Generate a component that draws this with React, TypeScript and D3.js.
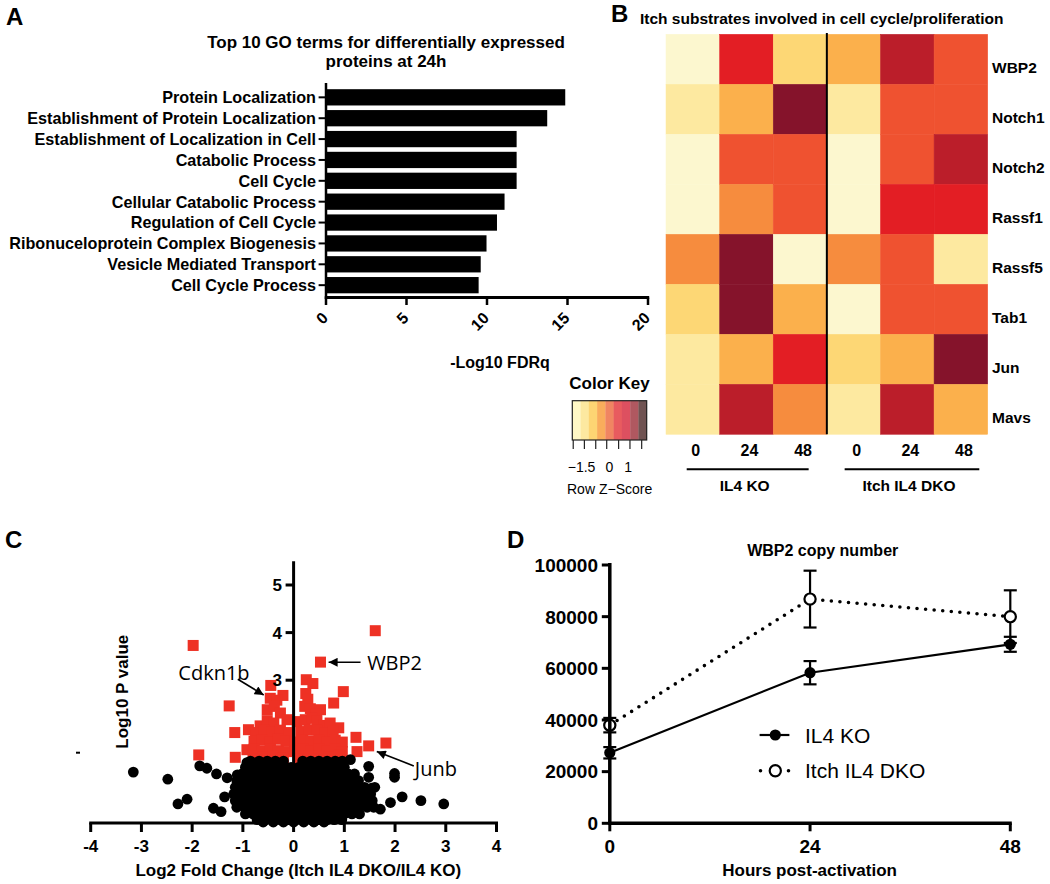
import React from 'react';
import * as d3 from 'd3';

// ---------- Panel A data ----------
const goTerms = [
  'Protein Localization',
  'Establishment of Protein Localization',
  'Establishment of Localization in Cell',
  'Catabolic Process',
  'Cell Cycle',
  'Cellular Catabolic Process',
  'Regulation of Cell Cycle',
  'Ribonuceloprotein Complex Biogenesis',
  'Vesicle Mediated Transport',
  'Cell Cycle Process',
];
const goValues = [14.86, 13.74, 11.84, 11.84, 11.84, 11.09, 10.62, 9.97, 9.61, 9.48];
const goTicks = [0, 5, 10, 15, 20];

// ---------- Panel B data ----------
const heatGenes = ['WBP2', 'Notch1', 'Notch2', 'Rassf1', 'Rassf5', 'Tab1', 'Jun', 'Mavs'];
const heatTimes = ['0', '24', '48', '0', '24', '48'];
const heatGroups = ['IL4 KO', 'Itch IL4 DKO'];
const heatZ = [
  [-1.8, 0.9, -0.9, -0.45, 1.3, 0.45],
  [-1.3, -0.45, 1.8, -1.3, 0.45, 0.45],
  [-1.8, 0.45, 0.45, -1.8, 0.45, 1.3],
  [-1.8, 0, 0.45, -1.8, 0.9, 0.9],
  [0, 1.8, -1.8, 0, 0.45, -1.3],
  [-0.9, 1.8, -0.45, -1.8, 0.45, 0.45],
  [-1.3, -0.45, 0.9, -0.9, -0.45, 1.8],
  [-1.3, 1.3, 0, -1.3, 1.3, -0.45],
];
const keyTickValues = [-1.95, -1.35, -0.74, -0.15, 0.49, 1.1, 1.73];
const keyLabels = [-1.5, 0, 1];

// ---------- Panel C data ----------
const volcanoSig: [number, number][] = [
  [1.61, 4.04], [-1.98, 3.73], [0.53, 3.38], [0.25, 3.01], [0.38, 2.93], [-0.45, 2.89],
  [0.98, 2.76], [0.79, 2.52], [-1.27, 2.46], [-1.16, 1.9], [-1.87, 1.43], [-1.15, 1.38],
  [1.23, 1.8], [1.82, 1.68], [1.48, 1.62], [1.25, 1.5], [0.89, 2.0], [-0.89, 1.96], [-0.92, 1.54],
  [-0.21, 2.68], [-0.46, 2.62], [-0.33, 2.58], [0.24, 2.72], [0.28, 2.6],
  [-0.52, 2.38], [-0.38, 2.45], [-0.26, 2.31], [0.22, 2.45], [0.33, 2.4], [0.53, 2.38], [0.45, 2.28],
  [-0.66, 2.04], [-0.52, 2.15], [-0.39, 2.1], [-0.13, 2.17], [0.07, 2.13], [0.23, 2.17], [0.36, 2.2],
  [0.46, 2.15], [0.6, 2.05], [0.72, 2.1],
  [-0.75, 1.9], [-0.58, 1.95], [-0.42, 1.92], [-0.26, 1.95], [-0.1, 1.9], [0.14, 1.92], [0.3, 1.95],
  [0.46, 1.96], [0.62, 1.9], [0.78, 1.93],
  [-0.78, 1.72], [-0.62, 1.75], [-0.46, 1.7], [-0.3, 1.76], [-0.15, 1.72], [0.02, 1.7], [0.18, 1.75],
  [0.34, 1.72], [0.5, 1.75], [0.66, 1.7], [0.82, 1.74], [0.96, 1.7],
  [-0.78, 1.55], [-0.62, 1.52], [-0.46, 1.56], [-0.3, 1.52], [-0.14, 1.5], [0.02, 1.52], [0.18, 1.55],
  [0.34, 1.52], [0.5, 1.56], [0.66, 1.52], [0.82, 1.55], [0.96, 1.5],
  [-0.8, 1.4], [-0.6, 1.38], [-0.4, 1.4], [-0.2, 1.36], [0.12, 1.35], [0.3, 1.4], [0.5, 1.4],
  [0.7, 1.38], [0.9, 1.42],
];
const volcanoOutliers: [number, number][] = [
  [-3.16, 1.07], [-2.48, 0.92], [-2.28, 0.4], [-2.1, 0.5], [-1.85, 1.2], [-1.71, 1.15], [-1.52, 1.03],
  [-1.31, 0.95], [-1.58, 0.31], [-1.43, 0.24], [-1.36, 0.55], [-1.11, 1.01], [-0.92, 1.27],
  [1.48, 1.19], [1.99, 1.04], [1.99, 0.96], [1.48, 0.96], [2.14, 0.55], [1.91, 0.43], [2.51, 0.47],
  [2.96, 0.4], [1.71, 0.29], [1.12, 1.33], [1.54, 0.73],
];
const volcanoCoreRows: [number, number[]][] = [
  [0.02, [-0.6, -0.4, -0.2, 0, 0.2, 0.4, 0.6]],
  [0.07, [-0.72, -0.56, -0.41, -0.26, -0.1, 0.05, 0.2, 0.35, 0.5, 0.66, 0.8, 0.95]],
  [0.19, [-0.95, -0.8, -0.65, -0.5, -0.35, -0.2, -0.05, 0.1, 0.25, 0.4, 0.55, 0.7, 0.85, 1.0, 1.15, 1.3]],
  [0.33, [-1.12, -0.97, -0.82, -0.67, -0.52, -0.37, -0.22, -0.07, 0.08, 0.23, 0.38, 0.53, 0.68, 0.83, 0.98, 1.13, 1.28, 1.45, 1.58]],
  [0.47, [-1.15, -1.0, -0.85, -0.7, -0.55, -0.4, -0.25, -0.1, 0.05, 0.2, 0.35, 0.5, 0.65, 0.8, 0.95, 1.1, 1.25, 1.4, 1.55]],
  [0.61, [-1.18, -1.03, -0.88, -0.73, -0.58, -0.43, -0.28, -0.13, 0.02, 0.17, 0.32, 0.47, 0.62, 0.77, 0.92, 1.07, 1.22, 1.37, 1.52]],
  [0.75, [-1.15, -1.0, -0.85, -0.7, -0.55, -0.4, -0.25, -0.1, 0.05, 0.2, 0.35, 0.5, 0.65, 0.8, 0.95, 1.1, 1.25, 1.4, 1.6]],
  [0.89, [-1.12, -0.97, -0.82, -0.67, -0.52, -0.37, -0.22, -0.07, 0.08, 0.23, 0.38, 0.53, 0.68, 0.83, 0.98, 1.13, 1.28]],
  [1.03, [-1.02, -0.87, -0.72, -0.57, -0.42, -0.27, -0.12, 0.03, 0.18, 0.33, 0.48, 0.63, 0.78, 0.93, 1.08, 1.2]],
  [1.17, [-0.95, -0.8, -0.65, -0.5, -0.35, -0.2, -0.05, 0.1, 0.25, 0.4, 0.55, 0.7, 0.85, 1.0]],
  [1.3, [-0.85, -0.68, -0.52, -0.36, -0.2, 0.18, 0.34, 0.5, 0.66, 0.82, 0.96]],
];
const volcanoXTicks = [-4, -3, -2, -1, 0, 1, 2, 3, 4];
const volcanoYTicks = [3, 4, 5];
const volcanoNotes = [
  { label: 'Cdkn1b', tx: -1.57, ty: 3.16, anchor: 'middle', from: [-1.1, 3.02], to: [-0.59, 2.69] },
  { label: 'WBP2', tx: 1.45, ty: 3.37, anchor: 'start', from: [1.32, 3.376], to: [0.69, 3.376] },
  { label: 'Junb', tx: 2.39, ty: 1.13, anchor: 'start', from: [2.37, 1.2], to: [1.64, 1.5] },
];

// ---------- Panel D data ----------
const hours = [0, 24, 48];
const il4koMean = [27300, 58300, 69300];
const il4koSem = [2200, 4500, 2900];
const dkoMean = [38000, 86800, 80000];
const dkoSem = [2800, 11000, 10200];
const copyTicks = [0, 20000, 40000, 60000, 80000, 100000];

const FONT = "'Liberation Sans', Arial, Helvetica, sans-serif";
const HEAT_COLORS = ['#fcf7cf', '#fde9a0', '#fdd775', '#fbb04c', '#f68c3e', '#ef5230', '#e31e24', '#bb1e2a', '#85132b'];
const KEY_COLORS = ['#fff8c6', '#fde9a0', '#fdd573', '#f9ad5c', '#f08562', '#e85b5f', '#dd5060', '#b05860', '#705352'];

export default function App() {
  // Panel A scales
  const xA = d3.scaleLinear().domain([0, 20]).range([326, 648]);
  const yA = d3.scaleBand().domain(goTerms).range([86.9, 295.6]).paddingInner(0.22).paddingOuter(0.11);
  const bwA = yA.bandwidth();

  // Panel B scales
  const colIdx = d3.range(heatTimes.length);
  const xH = d3.scaleBand<number>().domain(colIdx).range([666, 987.7]);
  const yH = d3.scaleBand().domain(heatGenes).range([34.3, 434.3]);
  const heatColor = d3.scaleQuantize<string>().domain([-2, 2]).range(HEAT_COLORS);
  const xKey = d3.scaleLinear().domain([-2, 2]).range([572.3, 646.7]);
  const keyBand = d3.scaleBand<number>().domain(d3.range(KEY_COLORS.length)).range([572.3, 646.7]);

  // Panel C scales
  const xC = d3.scaleLinear().domain([-4, 4]).range([90.7, 496.5]);
  const yC = d3.scaleLinear().domain([0, 5.5]).range([823, 561.2]);
  const corePts: [number, number][] = volcanoCoreRows.flatMap(([y, xs]) => xs.map((x) => [x, y] as [number, number]));
  const blackPts = [...corePts, ...volcanoOutliers];

  // Panel D scales
  const xD = d3.scaleLinear().domain([0, 48]).range([609.8, 1010.3]);
  const yD = d3.scaleLinear().domain([0, 100000]).range([823.3, 565]);
  const lineD = d3.line<number>().x((_, i) => xD(hours[i])).y((v) => yD(v));

  const groupSpans = [
    [xH(0)! + 20.7, xH(2)! + xH.bandwidth() - 18.2],
    [xH(3)! + 17.8, xH(5)! + xH.bandwidth() - 8.4],
  ];

  return (
    <svg
      width={1050}
      height={884}
      viewBox="0 0 1050 884"
      style={{ position: 'absolute', left: 0, top: 0, background: '#fff' }}
      fontFamily={FONT}
    >
      <defs>
        <marker id="arrowHead" viewBox="0 0 10 10" refX={10} refY={5} markerWidth={12} markerHeight={9}
          markerUnits="userSpaceOnUse" orient="auto">
          <path d="M0,0 L10,5 L0,10 z" fill="#000" />
        </marker>
      </defs>
      <rect x={0} y={0} width={1050} height={884} fill="#fff" />

      {/* ================= Panel A ================= */}
      <text x={6} y={25} fontSize={24} fontWeight="bold">A</text>
      <text x={386} y={48} fontSize={17} fontWeight="bold" textAnchor="middle">Top 10 GO terms for differentially expressed</text>
      <text x={386} y={67} fontSize={17} fontWeight="bold" textAnchor="middle">proteins at 24h</text>
      {goTerms.map((t, i) => (
        <g key={t}>
          <rect x={xA(0)} y={yA(t)} width={xA(goValues[i]) - xA(0)} height={bwA} fill="#000" />
          <line x1={318.6} x2={xA(0)} y1={yA(t)! + bwA / 2} y2={yA(t)! + bwA / 2} stroke="#000" strokeWidth={2} />
          <text x={316} y={yA(t)! + bwA / 2} dy="0.36em" fontSize={16.2} fontWeight="bold" textAnchor="end">{t}</text>
        </g>
      ))}
      <line x1={xA(0)} x2={xA(0)} y1={83} y2={298.5} stroke="#000" strokeWidth={2.5} />
      <line x1={xA(0) - 1.2} x2={xA(20) + 1.2} y1={297.5} y2={297.5} stroke="#000" strokeWidth={3} />
      {goTicks.map((t) => (
        <g key={t}>
          <line x1={xA(t)} x2={xA(t)} y1={297.5} y2={305} stroke="#000" strokeWidth={2.5} />
          <text transform={`translate(${xA(t) - 1},${315}) rotate(-45)`} dy="0.36em" fontSize={16} fontWeight="bold" textAnchor="end">{t}</text>
        </g>
      ))}
      <text x={500} y={368} fontSize={16} fontWeight="bold" textAnchor="middle">-Log10 FDRq</text>

      {/* ================= Panel B ================= */}
      <text x={611} y={22} fontSize={24} fontWeight="bold">B</text>
      <text x={640} y={24} fontSize={15.5} fontWeight="bold">Itch substrates involved in cell cycle/proliferation</text>
      {heatGenes.map((g, r) => (
        <g key={g}>
          {colIdx.map((c) => (
            <rect key={c} x={xH(c)} y={yH(g)} width={xH.bandwidth()} height={yH.bandwidth()}
              fill={heatColor(heatZ[r][c])} stroke={heatColor(heatZ[r][c])} strokeWidth={0.5} />
          ))}
          <text x={992} y={yH(g)! + yH.bandwidth() / 2 + 8} dy="0.36em" fontSize={15.5} fontWeight="bold">{g}</text>
        </g>
      ))}
      <line x1={xH(3)} x2={xH(3)} y1={33} y2={434.3} stroke="#000" strokeWidth={2} />
      {heatTimes.map((t, c) => (
        <text key={c} x={xH(c)! + xH.bandwidth() / 2 + 3} y={456} fontSize={16} fontWeight="bold" textAnchor="middle">{t}</text>
      ))}
      {heatGroups.map((g, i) => (
        <g key={g}>
          <line x1={groupSpans[i][0]} x2={groupSpans[i][1]} y1={469.3} y2={469.3} stroke="#000" strokeWidth={2} />
          <text x={(groupSpans[i][0] + groupSpans[i][1]) / 2 - 3} y={490.5} fontSize={15.5} fontWeight="bold" textAnchor="middle">{g}</text>
        </g>
      ))}

      {/* Color key */}
      <text x={609.5} y={389} fontSize={17} fontWeight="bold" textAnchor="middle">Color Key</text>
      {KEY_COLORS.map((c, i) => (
        <rect key={i} x={keyBand(i)} y={400.7} width={keyBand.bandwidth() + 0.3} height={39.3} fill={c} />
      ))}
      <rect x={572.3} y={400.7} width={74.4} height={39.3} fill="none" stroke="#222" strokeWidth={1.2} />
      {keyTickValues.map((v, i) => (
        <line key={i} x1={xKey(v)} x2={xKey(v)} y1={440} y2={449} stroke="#222" strokeWidth={1.2} />
      ))}
      {keyLabels.map((v) => (
        <text key={v} x={xKey(v)} y={472} fontSize={14} textAnchor="middle">{v < 0 ? '\u2212' + Math.abs(v) : String(v)}</text>
      ))}
      <text x={609.6} y={494} fontSize={14} textAnchor="middle">Row Z{'\u2212'}Score</text>

      {/* ================= Panel C ================= */}
      <text x={5} y={548} fontSize={24} fontWeight="bold">C</text>
      {volcanoSig.map(([x, y], i) => (
        <rect key={i} x={xC(x) - 5.5} y={yC(y) - 5.5} width={11} height={11} fill="#ee3124" />
      ))}
      {blackPts.map(([x, y], i) => (
        <circle key={i} cx={xC(x)} cy={yC(y)} r={5.4} fill="#000" />
      ))}
      <line x1={xC(0)} x2={xC(0)} y1={yC(5.5)} y2={yC(0)} stroke="#000" strokeWidth={3} />
      {volcanoYTicks.map((t) => (
        <g key={t}>
          <line x1={xC(0) - 8} x2={xC(0)} y1={yC(t)} y2={yC(t)} stroke="#000" strokeWidth={3} />
          <text x={282} y={yC(t)} dy="0.36em" fontSize={17} fontWeight="bold" textAnchor="end">{t}</text>
        </g>
      ))}
      <line x1={xC(-4) - 1.5} x2={xC(4) + 1.5} y1={yC(0)} y2={yC(0)} stroke="#000" strokeWidth={3} />
      {volcanoXTicks.map((t) => (
        <g key={t}>
          <line x1={xC(t)} x2={xC(t)} y1={yC(0)} y2={yC(0) + 9} stroke="#000" strokeWidth={3} />
          <text x={xC(t)} y={852} fontSize={17} fontWeight="bold" textAnchor="middle">{t}</text>
        </g>
      ))}
      <text x={298.3} y={876} fontSize={17} fontWeight="bold" textAnchor="middle">Log2 Fold Change (Itch IL4 DKO/IL4 KO)</text>
      <text transform="translate(121.7,691.7) rotate(-90)" dy="0.36em" fontSize={17} fontWeight="bold" textAnchor="middle">Log10 P value</text>
      <line x1={76} x2={80} y1={752.7} y2={752.7} stroke="#000" strokeWidth={2} />
      {volcanoNotes.map((n) => (
        <g key={n.label}>
          <line x1={xC(n.from[0])} y1={yC(n.from[1])} x2={xC(n.to[0])} y2={yC(n.to[1])}
            stroke="#000" strokeWidth={1.6} markerEnd="url(#arrowHead)" />
          <text x={xC(n.tx)} y={yC(n.ty)} dy="0.36em" fontSize={20} fontFamily="'Open Sans', 'Liberation Sans', sans-serif"
            textAnchor={n.anchor as any}>{n.label}</text>
        </g>
      ))}

      {/* ================= Panel D ================= */}
      <text x={507} y={548} fontSize={24} fontWeight="bold">D</text>
      <text x={822.7} y={556} fontSize={16} fontWeight="bold" textAnchor="middle">WBP2 copy number</text>
      <path d={lineD(dkoMean) || ''} fill="none" stroke="#000" strokeWidth={3.6} strokeDasharray="0 8.6" strokeLinecap="round" />
      <path d={lineD(il4koMean) || ''} fill="none" stroke="#000" strokeWidth={2.2} />
      {hours.map((h, i) => (
        <g key={'e' + h}>
          {[[il4koMean[i], il4koSem[i]], [dkoMean[i], dkoSem[i]]].map(([m, s], k) => (
            <g key={k}>
              <line x1={xD(h)} x2={xD(h)} y1={yD(m - s)} y2={yD(m + s)} stroke="#000" strokeWidth={2.2} />
              <line x1={xD(h) - 6.5} x2={xD(h) + 6.5} y1={yD(m - s)} y2={yD(m - s)} stroke="#000" strokeWidth={2.2} />
              <line x1={xD(h) - 6.5} x2={xD(h) + 6.5} y1={yD(m + s)} y2={yD(m + s)} stroke="#000" strokeWidth={2.2} />
            </g>
          ))}
        </g>
      ))}
      {hours.map((h, i) => (
        <circle key={'f' + h} cx={xD(h)} cy={yD(il4koMean[i])} r={5.6} fill="#000" />
      ))}
      {hours.map((h, i) => (
        <circle key={'o' + h} cx={xD(h)} cy={yD(dkoMean[i])} r={5.6} fill="#fff" stroke="#000" strokeWidth={2.2} />
      ))}
      {/* axes */}
      <line x1={xD(0)} x2={xD(0)} y1={yD(100000) - 2} y2={yD(0)} stroke="#000" strokeWidth={3.5} />
      {copyTicks.map((t) => (
        <g key={t}>
          <line x1={xD(0) - 8} x2={xD(0)} y1={yD(t)} y2={yD(t)} stroke="#000" strokeWidth={3} />
          <text x={598} y={yD(t)} dy="0.36em" fontSize={19} fontWeight="bold" textAnchor="end">{t}</text>
        </g>
      ))}
      <line x1={xD(0) - 1.7} x2={xD(48) + 1.5} y1={yD(0)} y2={yD(0)} stroke="#000" strokeWidth={3.5} />
      {hours.map((h) => (
        <g key={'t' + h}>
          <line x1={xD(h)} x2={xD(h)} y1={yD(0)} y2={yD(0) + 8} stroke="#000" strokeWidth={3} />
          <text x={xD(h)} y={853} fontSize={19} fontWeight="bold" textAnchor="middle">{h}</text>
        </g>
      ))}
      <text x={809.6} y={876} fontSize={17} fontWeight="bold" textAnchor="middle">Hours post-activation</text>
      {/* legend */}
      <line x1={759.6} x2={789.4} y1={735} y2={735} stroke="#000" strokeWidth={2.2} />
      <circle cx={775.3} cy={735} r={5.6} fill="#000" />
      <text x={805} y={735} dy="0.36em" fontSize={21}>IL4 KO</text>
      <line x1={760.5} x2={790} y1={770.7} y2={770.7} stroke="#000" strokeWidth={3.6} strokeDasharray="0 28" strokeLinecap="round" />
      <circle cx={775.3} cy={770.7} r={5.6} fill="#fff" stroke="#000" strokeWidth={2.2} />
      <text x={805} y={770.7} dy="0.36em" fontSize={21}>Itch IL4 DKO</text>
    </svg>
  );
}
